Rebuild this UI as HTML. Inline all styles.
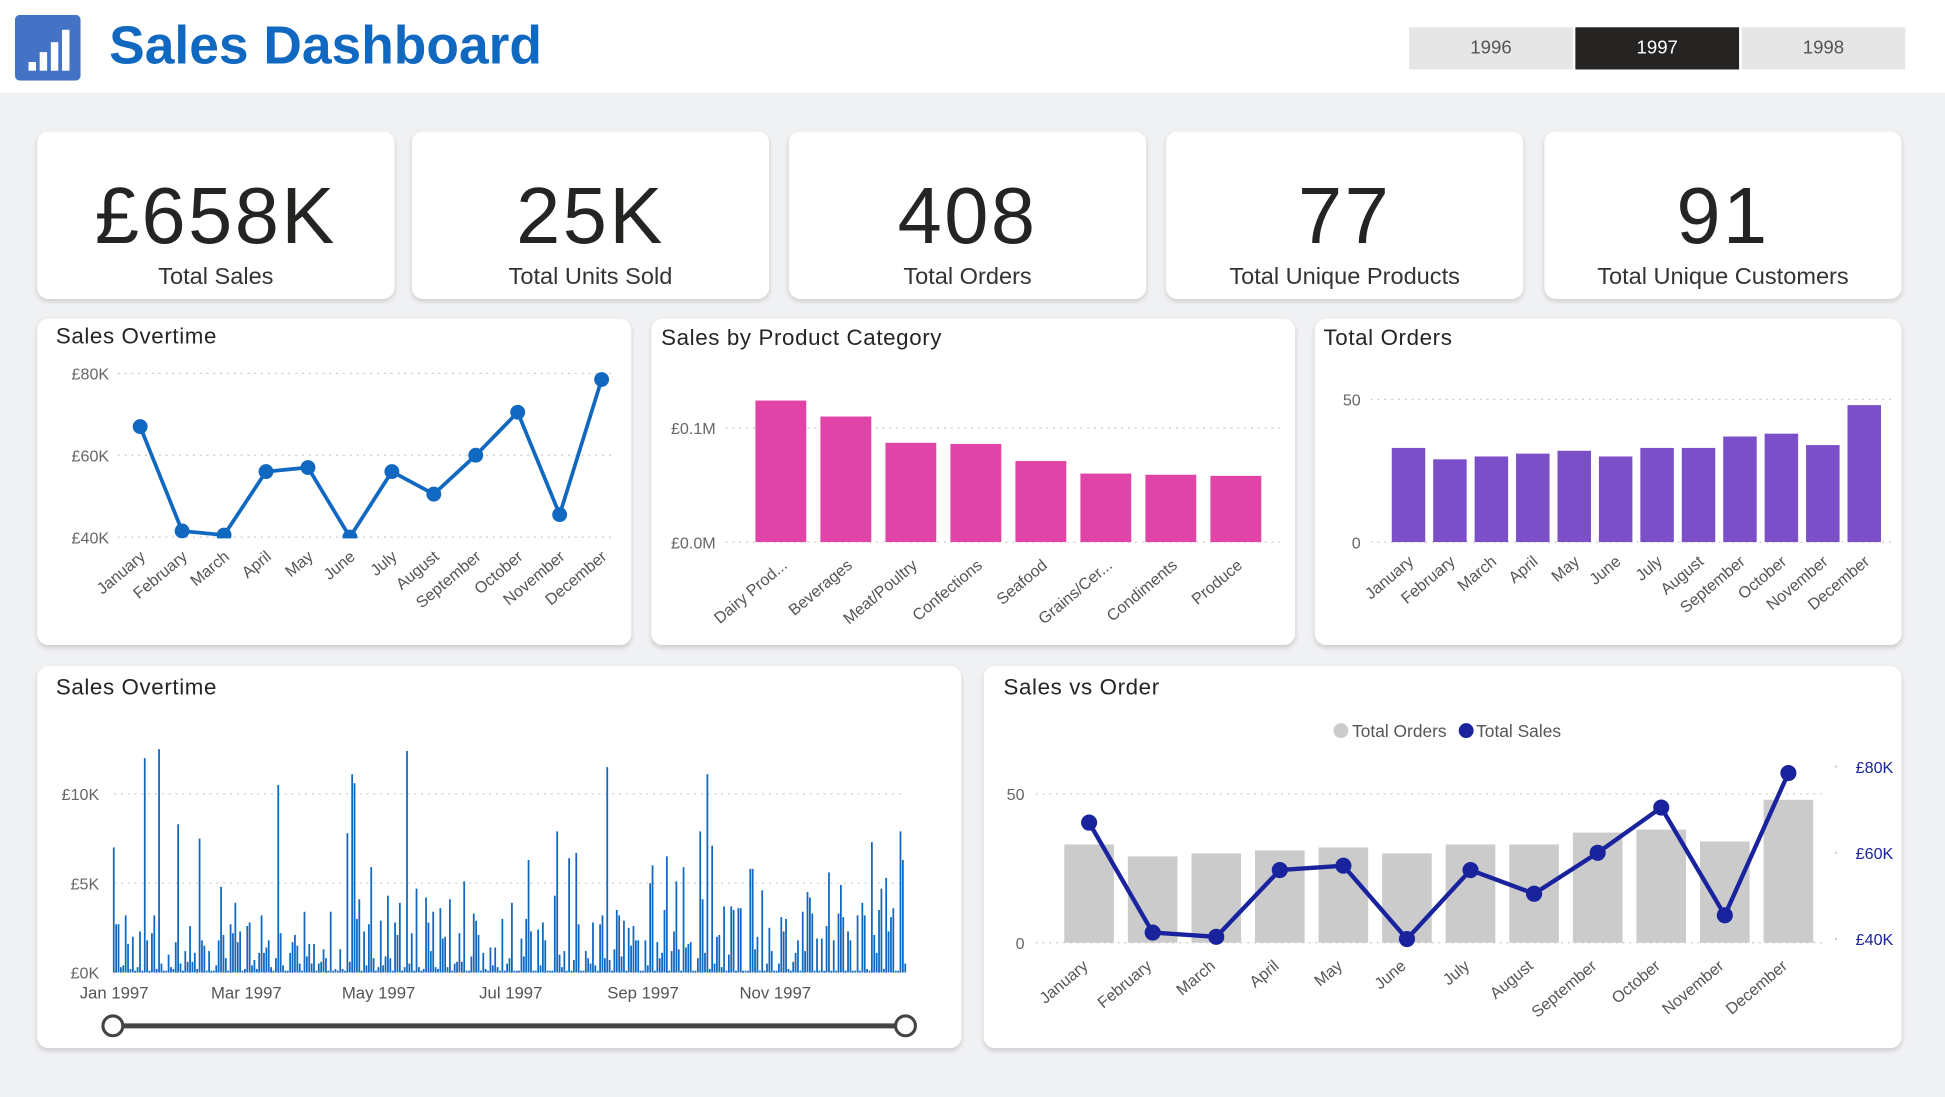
<!DOCTYPE html>
<html><head><meta charset="utf-8">
<style>
html,body{margin:0;padding:0;width:1945px;height:1096px;overflow:hidden;background:#f0f1f3;font-family:"Liberation Sans",sans-serif;}
#root{position:absolute;left:0;top:0;width:1568px;height:884px;transform:scale(1.24043);transform-origin:0 0;}
.hdr{position:absolute;left:0;top:0;width:1568px;height:75px;background:#fff;}
.card{position:absolute;background:#fff;border-radius:9px;box-shadow:0 2px 4px rgba(0,0,0,0.15);}
.kv{position:absolute;left:0;right:0;top:31px;text-align:center;font-size:64px;letter-spacing:2px;color:#252423;}
.kl{position:absolute;left:0;right:0;top:107px;text-align:center;font-size:19px;color:#333;}
.yr{position:absolute;top:22px;width:132px;height:34px;line-height:34px;text-align:center;font-size:15px;background:#e6e6e6;color:#555;}
svg text{font-family:"Liberation Sans",sans-serif;}
</style></head><body>
<div id="root">
<div class="hdr">
 <svg style="position:absolute;left:12px;top:12px" width="53" height="53">
  <rect x="0" y="0" width="53" height="53" rx="4" fill="#4472c4"/>
  <rect x="11" y="38" width="6" height="7" fill="#fff"/><rect x="20" y="30" width="6" height="15" fill="#fff"/>
  <rect x="29" y="22" width="6" height="23" fill="#fff"/><rect x="38" y="12" width="6" height="33" fill="#fff"/>
 </svg>
 <div style="position:absolute;left:88px;top:13px;font-size:43px;font-weight:bold;color:#1168c0;">Sales Dashboard</div>
 <div class="yr" style="left:1136px">1996</div>
 <div class="yr" style="left:1270px;background:#252423;color:#fff">1997</div>
 <div class="yr" style="left:1404px">1998</div>
</div>
<div class="card" style="left:30px;top:106px;width:288px;height:135px"><div class="kv">£658K</div><div class="kl">Total Sales</div></div>
<div class="card" style="left:332px;top:106px;width:288px;height:135px"><div class="kv">25K</div><div class="kl">Total Units Sold</div></div>
<div class="card" style="left:636px;top:106px;width:288px;height:135px"><div class="kv">408</div><div class="kl">Total Orders</div></div>
<div class="card" style="left:940px;top:106px;width:288px;height:135px"><div class="kv">77</div><div class="kl">Total Unique Products</div></div>
<div class="card" style="left:1245px;top:106px;width:288px;height:135px"><div class="kv">91</div><div class="kl">Total Unique Customers</div></div>
<div class="card" style="left:30px;top:257px;width:479px;height:263px"></div>
<div class="card" style="left:525px;top:257px;width:519px;height:263px"></div>
<div class="card" style="left:1060px;top:257px;width:473px;height:263px"></div>
<div class="card" style="left:30px;top:537px;width:745px;height:308px"></div>
<div class="card" style="left:793px;top:537px;width:740px;height:308px"></div>
<svg id="ov" style="position:absolute;left:0;top:0" width="1568" height="884"></svg>
</div>
<script>
const months=["January","February","March","April","May","June","July","August","September","October","November","December"];
const monthlySales=[67,41.5,40.5,56,57,40,56,50.5,60,70.5,45.5,78.5];
const monthlyOrders=[33,29,30,31,32,30,33,33,37,38,34,48];
const categories=["Dairy Prod...","Beverages","Meat/Poultry","Confections","Seafood","Grains/Cer...","Condiments","Produce"];
const categorySales=[0.124,0.110,0.087,0.086,0.071,0.060,0.059,0.058];
const salesTicks=["£40K","£60K","£80K"];
const salesTickVals=[40,60,80];
const catTicks=["£0.0M","£0.1M"];
const catTickVals=[0,0.1];
const orderTicks=["0","50"];
const orderTickVals=[0,50];
const dailyTicks=["£0K","£5K","£10K"];
const dailyTickVals=[0,5,10];
const dateTicks=["Jan 1997","Mar 1997","May 1997","Jul 1997","Sep 1997","Nov 1997"];
const dailySales=[7,2.7,2.7,0.3,0.4,3.2,1.6,0.2,2,0.1,0.3,2.3,0.1,12,1.8,0.1,2.2,3.2,0.2,12.5,0.5,0.1,0.1,1,0.3,0.2,1.7,8.3,0.5,0.1,1.2,0.6,2.6,0.6,1.1,0.2,7.5,1.8,1.5,0.1,1.2,0.1,0.1,0.4,1.8,4.8,2.1,0.8,0.1,2.7,2.2,3.9,1.7,2.3,0.1,0.2,2.6,2.8,0.4,0.7,0.2,1.1,3.2,1.1,1.4,1.8,0.3,0.1,0.8,10.5,2.2,0.4,0.1,0.1,1.1,1.7,2.1,1.5,0.5,0.1,3.4,0.9,1.6,0.5,1.6,0.1,0.5,0.6,1.3,0.8,0.1,3.4,0.1,0.2,0.1,1.3,0.2,0.1,7.8,0.6,11.1,10.6,3,4.1,0.1,2.3,0.4,2.7,5.9,0.8,0.1,0.3,2.9,0.4,0.9,4.3,0.8,0.1,2.8,2.1,3.9,0.1,0.3,12.4,0.5,2.2,0.1,4.7,0.3,0.1,0.2,4.2,2.8,1.2,3.4,0.3,0.2,3.6,1.9,2,0.3,4.1,0.1,0.5,0.6,2.2,0.6,5.1,0.1,0.1,0.9,3.3,2.9,2.1,0.1,1.1,0.2,0.1,1.4,0.4,1.4,0.3,0.1,3,0.1,0.5,0.8,3.9,0.1,0.1,0.1,1.9,0.9,3,6.3,2.3,0.1,0.1,2.4,0.4,2.8,1.8,0.1,0.1,0.1,4.3,7.9,1,0.3,1.2,0.1,6.4,0.1,0.7,6.7,2.7,0.1,0.1,1.2,0.8,0.5,2.8,0.4,0.1,2.7,3.2,0.8,11.5,0.7,0.1,1.3,3.5,3.2,0.9,2.9,0.1,2.5,1.5,2.6,1.8,1.8,0.1,0.1,1.8,0.4,5,6,0.1,1.7,0.8,1.1,3.5,6.5,0.1,1.2,2.3,5.1,1.3,0.1,5.9,1.4,1.6,1.7,0.1,0.1,0.8,7.9,4.1,1.1,11.1,0.2,7.1,0.5,2,2.1,0.3,3.7,0.1,1,3.7,3.5,0.1,3.6,3.6,0.1,0.1,0.1,5.8,5.8,1.3,2,0.1,4.6,0.1,0.5,2.5,1.2,0.1,0.1,0.5,3.1,2.3,3,0.2,0.1,0.6,1.1,1.8,0.1,3.4,1.2,4.5,4.2,3.3,0.1,1.9,0.1,1.9,0.1,2.6,5.6,0.1,1.8,0.1,3.3,4.9,3.1,0.1,2.3,1.8,0.1,0.1,3.2,0.1,3.9,3.2,0.2,0.1,7.3,2.1,1.1,3.5,4.7,0.2,5.3,2.3,3.1,3.6,0.1,0.1,7.9,6.3,0.5];
const svg=document.getElementById('ov');
const NS='http://www.w3.org/2000/svg';
function mk(tag,attrs,parent){const e=document.createElementNS(NS,tag);for(const k in attrs)e.setAttribute(k,attrs[k]);(parent||svg).appendChild(e);return e;}
function txt(x,y,s,size,fill,anchor,rot,parent){const t=mk('text',{x:x,y:y,'font-size':size,fill:fill,'text-anchor':anchor||'start'},parent);if(rot)t.setAttribute('transform','rotate('+rot+' '+x+' '+y+')');t.textContent=s;return t;}
function lin(d0,d1,r0,r1){return v=>r0+(v-d0)*(r1-r0)/(d1-d0);}
function grid(x0,x1,y,g){mk('line',{x1:x0,x2:x1,y1:y,y2:y,stroke:'#c8c8c8','stroke-width':1,'stroke-dasharray':'1.5 4'},g);}
function title(x,y,s,name){const t=txt(x,y,s,18,'#252423','start',0);t.setAttribute('letter-spacing','0.5');}
const ROT=-40;
title(45,277,'Sales Overtime','sales-overtime-title');
(function(){
 const g=mk('g',{});
 
 
 const y=lin(40,80,433,301), x=i=>113+i*(485-113)/11;
 salesTickVals.forEach((v,i)=>{grid(95,493,y(v),g);txt(88,y(v)+5,salesTicks[i],13,'#666','end',0,g);});
 let d='';monthlySales.forEach((v,i)=>{d+=(i?'L':'M')+x(i)+' '+y(v);});
 const cp=mk('clipPath',{id:'c1'},g);mk('rect',{x:90,y:290,width:410,height:144},cp);
 const p=mk('path',{d:d,fill:'none',stroke:'#1168c0','stroke-width':3,'clip-path':'url(#c1)'},g);
 
 
 monthlySales.forEach((v,i)=>{const c=mk('circle',{cx:x(i),cy:y(v),r:6,fill:'#1168c0','clip-path':'url(#c1)'},g);
  
  
  txt(x(i)+5,y(40)+17,months[i],13,'#555','end',ROT,g);});
})();
title(533,278,'Sales by Product Category','category-chart-title');
(function(){
 const g=mk('g',{});
 
 
 const y=lin(0,0.1,437,345), step=52.4, bw=41;
 catTickVals.forEach((v,i)=>{grid(585,1035,y(v),g);txt(577,y(v)+5,catTicks[i],13,'#666','end',0,g);});
 categorySales.forEach((v,i)=>{const x0=609+i*step;
  const r=mk('rect',{x:x0,y:y(v),width:bw,height:y(0)-y(v),fill:'#e044a7'},g);
  
  
  txt(x0+bw/2+6,y(0)+20,categories[i],13,'#555','end',ROT,g);});
})();
title(1067,278,'Total Orders','orders-chart-title');
(function(){
 const g=mk('g',{});
 
 
 const y=lin(0,50,437,322), step=33.4, bw=27;
 orderTickVals.forEach((v,i)=>{grid(1105,1525,y(v),g);txt(1097,y(v)+5,orderTicks[i],13,'#666','end',0,g);});
 monthlyOrders.forEach((v,i)=>{const x0=1122+i*step;
  const r=mk('rect',{x:x0,y:y(v),width:bw,height:y(0)-y(v),fill:'#7b4fc8'},g);
  
  
  txt(x0+bw/2+5,y(0)+17,months[i],13,'#555','end',ROT,g);});
})();
title(45,560,'Sales Overtime','daily-sales-title');
(function(){
 const g=mk('g',{});
 
 
 const y=lin(0,10,784,640), n=dailySales.length, x0=91, x1=731, step=(x1-x0)/n;
 dailyTickVals.forEach((v,i)=>{grid(92,730,y(v),g);txt(80,y(v)+5,dailyTicks[i],13,'#666','end',0,g);});
 dailySales.forEach((v,i)=>{const r=mk('rect',{x:x0+i*step,y:y(v),width:Math.max(step-0.5,1),height:y(0)-y(v),fill:'#1168c0'},g);
  
  });
 dateTicks.forEach((s,i)=>{txt(92+i*106.6,805,s,13.5,'#555','middle',0,g);});
 const tr=mk('line',{x1:91,x2:730,y1:827,y2:827,stroke:'#444','stroke-width':4},g);
 
 
 [91,730].forEach((cx,i)=>{const h=mk('circle',{cx:cx,cy:827,r:8,fill:'#fff',stroke:'#444','stroke-width':2.5},g);
  
  });
})();
title(809,560,'Sales vs Order','sales-vs-order-title');
(function(){
 const g=mk('g',{});
 
 
 const yl=lin(0,50,760,640), yr=lin(40,80,757,618), step=51.25, bw=40;
 orderTickVals.forEach((v,i)=>{grid(835,1472,yl(v),g);txt(826,yl(v)+5,orderTicks[i],13,'#666','end',0,g);});
 salesTickVals.forEach((v,i)=>{txt(1496,yr(v)+5,salesTicks[i],13,'#1a239e','start',0,g);mk('circle',{cx:1480,cy:yr(v),r:0.8,fill:'#bbb'},g);});
 monthlyOrders.forEach((v,i)=>{const x0=858+i*step;
  const r=mk('rect',{x:x0,y:yl(v),width:bw,height:yl(0)-yl(v),fill:'#cbcbcb'},g);
  
  
  txt(x0+bw/2,yl(0)+20,months[i],13,'#555','end',ROT,g);});
 let d='';monthlySales.forEach((v,i)=>{d+=(i?'L':'M')+(878+i*step)+' '+yr(v);});
 const p=mk('path',{d:d,fill:'none',stroke:'#1a239e','stroke-width':3.5},g);
 
 
 monthlySales.forEach((v,i)=>{const c=mk('circle',{cx:878+i*step,cy:yr(v),r:6.5,fill:'#1a239e'},g);
  
  });
 const l1=mk('circle',{cx:1081,cy:589,r:6,fill:'#cbcbcb'},g);
 
 
 txt(1090,594,'Total Orders',14,'#555','start',0,g);
 const l2=mk('circle',{cx:1182,cy:589,r:6,fill:'#1a239e'},g);
 
 
 txt(1190,594,'Total Sales',14,'#555','start',0,g);
})();
</script>
</body></html>
